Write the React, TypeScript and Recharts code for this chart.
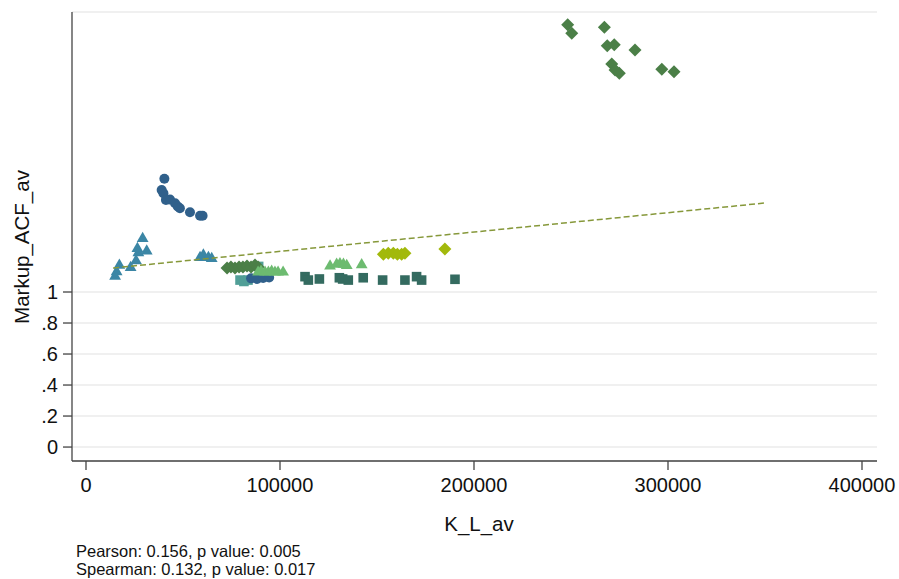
import React from "react";
import { CartesianGrid, Scatter, ScatterChart, XAxis, YAxis } from "recharts";

const FONT = '"Liberation Sans", Arial, sans-serif';

// [K_L_av, Markup_ACF_av]
const blueCircles: [number, number][] = [
  [40400, 1.73], [39000, 1.658], [39900, 1.637], [41200, 1.594], [43300, 1.596],
  [45900, 1.572], [47300, 1.552], [48400, 1.54], [53600, 1.514], [58800, 1.492],
  [60100, 1.492], [85100, 1.088], [88200, 1.084], [91300, 1.09], [94400, 1.094],
];
const tealTriangles: [number, number][] = [
  [29200, 1.346], [26500, 1.282], [31300, 1.265], [27000, 1.254], [25800, 1.202],
  [23000, 1.159], [17200, 1.174], [15800, 1.131], [15000, 1.103],
  [60500, 1.239], [63100, 1.224], [58800, 1.224], [64800, 1.217],
];
const lightTealSquares: [number, number][] = [
  [89000, 1.165], [79400, 1.077], [81400, 1.068], [83500, 1.077],
];
const greenDiamonds: [number, number][] = [
  [72700, 1.155], [74700, 1.161], [76800, 1.155], [78900, 1.161], [80900, 1.161],
  [83000, 1.168], [85100, 1.161], [87100, 1.174], [88700, 1.161],
  [248300, 2.723], [250400, 2.669], [267200, 2.708], [268700, 2.589], [272300, 2.594],
  [283000, 2.561], [271000, 2.471], [272700, 2.432], [274900, 2.411], [296800, 2.437],
  [303100, 2.421],
];
const lightGreenTriangles: [number, number][] = [
  [88700, 1.129], [90200, 1.135], [92300, 1.129], [94000, 1.129], [95700, 1.135],
  [97400, 1.129], [99000, 1.129], [101600, 1.129],
  [125800, 1.168], [129200, 1.18], [130900, 1.184], [132700, 1.18], [134400, 1.172],
  [142100, 1.176],
];
const darkTealSquares: [number, number][] = [
  [112900, 1.099], [114600, 1.077], [120300, 1.084], [130600, 1.092], [132300, 1.084],
  [135200, 1.077], [142900, 1.092], [152900, 1.077], [164400, 1.077], [170400, 1.099],
  [173000, 1.077], [190200, 1.082],
];
const yellowDiamonds: [number, number][] = [
  [153300, 1.243], [155800, 1.25], [158400, 1.25], [160500, 1.243], [162700, 1.243],
  [164400, 1.25], [185000, 1.277],
];
const fitLine: [number, number][] = [
  [14000, 1.155],
  [350000, 1.574],
];

const xTicks = [0, 100000, 200000, 300000, 400000];
const yTicks = [0, 0.2, 0.4, 0.6, 0.8, 1];
const notes = ["Pearson: 0.156, p value: 0.005", "Spearman: 0.132, p value: 0.017"];

const toPoints = (pairs: [number, number][]) => pairs.map(([x, y]) => ({ x, y }));

type Kind = "circle" | "triangle" | "diamond" | "square";

function marker(kind: Kind, fill: string) {
  return (p: any) => {
    const { cx, cy } = p;
    if (cx == null || cy == null) return <g />;
    if (kind === "circle") return <circle cx={cx} cy={cy} r={5} fill={fill} />;
    if (kind === "square")
      return <rect x={cx - 4.8} y={cy - 4.8} width={9.6} height={9.6} fill={fill} />;
    if (kind === "diamond")
      return (
        <polygon
          points={`${cx},${cy - 6.5} ${cx + 6.5},${cy} ${cx},${cy + 6.5} ${cx - 6.5},${cy}`}
          fill={fill}
        />
      );
    return (
      <polygon
        points={`${cx},${cy - 6.6} ${cx + 5.9},${cy + 3.6} ${cx - 5.9},${cy + 3.6}`}
        fill={fill}
      />
    );
  };
}

const yFmt = (v: number) => (v === 0 ? "0" : v === 1 ? "1" : String(v).replace(/^0/, ""));

export default function App() {
  const axisStyle = { stroke: "#444", strokeWidth: 1.3 };
  const tickStyle = { fill: "#111", fontSize: 20, fontFamily: FONT };
  return (
    <div style={{ position: "absolute", left: 0, top: 0, width: 899, height: 579, background: "#fff" }}>
      <ScatterChart width={899} height={579} margin={{ top: 12, right: 22, bottom: 58, left: 0 }}>
        <CartesianGrid horizontal vertical={false} stroke="#ebebeb" strokeWidth={1.5} />
        <XAxis
          type="number"
          dataKey="x"
          domain={[-7216, 407732]}
          ticks={xTicks}
          allowDataOverflow
          height={60}
          tickSize={9}
          tickMargin={8}
          axisLine={axisStyle}
          tickLine={axisStyle}
          tick={tickStyle}
        />
        <YAxis
          type="number"
          dataKey="y"
          domain={[-0.09, 2.806]}
          ticks={yTicks}
          allowDataOverflow
          width={72}
          tickSize={9}
          tickMargin={5}
          tickFormatter={yFmt}
          axisLine={axisStyle}
          tickLine={axisStyle}
          tick={tickStyle}
        />
        <Scatter data={toPoints(lightTealSquares)} shape={marker("square", "#519f97")} isAnimationActive={false} />
        <Scatter data={toPoints(blueCircles)} shape={marker("circle", "#30608b")} isAnimationActive={false} />
        <Scatter data={toPoints(tealTriangles)} shape={marker("triangle", "#3b86a5")} isAnimationActive={false} />
        <Scatter data={toPoints(greenDiamonds)} shape={marker("diamond", "#4b7f47")} isAnimationActive={false} />
        <Scatter data={toPoints(lightGreenTriangles)} shape={marker("triangle", "#6dbb70")} isAnimationActive={false} />
        <Scatter data={toPoints(darkTealSquares)} shape={marker("square", "#346b60")} isAnimationActive={false} />
        <Scatter data={toPoints(yellowDiamonds)} shape={marker("diamond", "#a2b90c")} isAnimationActive={false} />
        <Scatter
          data={toPoints(fitLine)}
          line={{ stroke: "#86983a", strokeWidth: 1.5, strokeDasharray: "6 3" }}
          shape={() => <g />}
          isAnimationActive={false}
        />
      </ScatterChart>
      <svg
        width={899}
        height={579}
        style={{ position: "absolute", left: 0, top: 0, pointerEvents: "none" }}
        fontFamily={FONT}
      >
        <text x={479} y={531} textAnchor="middle" fontSize={20.5} fill="#111">
          K_L_av
        </text>
        <text transform="translate(29,247) rotate(-90)" textAnchor="middle" fontSize={20.5} fill="#111">
          Markup_ACF_av
        </text>
        {notes.map((t, i) => (
          <text key={t} x={76} y={557 + i * 18} fontSize={16.5} fill="#111">
            {t}
          </text>
        ))}
      </svg>
    </div>
  );
}
